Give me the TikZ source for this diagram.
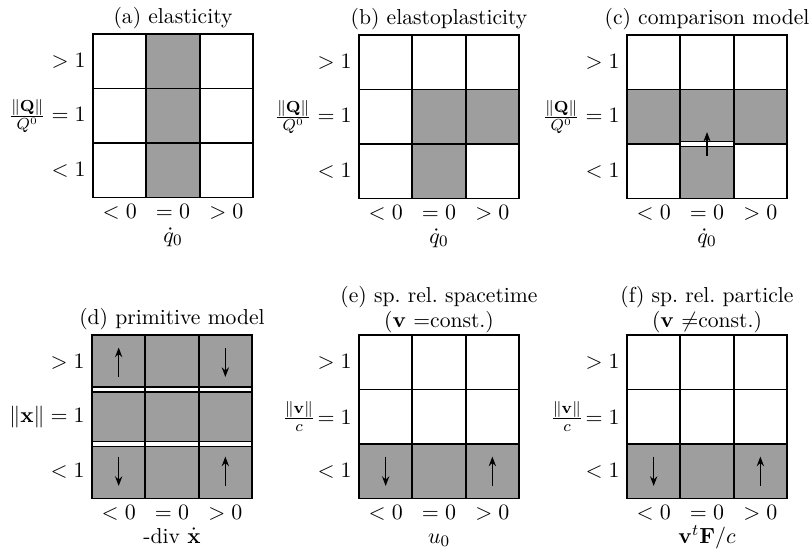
\documentclass[tikz,border=0pt]{standalone}
\usetikzlibrary{arrows.meta}
\tikzset{
  shaded/.style={fill=black!38},
  gridline/.style={line width=0.9pt, line cap=rect},
  flow/.style={line width=0.75pt, -{Stealth[length=4.8pt,width=3.6pt]}},
  tag/.style={font=\fontsize{10.8}{13}\selectfont, inner sep=0pt},
}
% row, column and axis labels of one 3x3 panel (cell units)
\newcommand{\panellabels}[3]{%
  \node[tag, anchor=east] (#1-r0) at (-0.13,0.5) {\(>1\)};
  \node[tag, anchor=east] (#1-r1) at (-0.13,1.5) {#2};
  \node[tag, anchor=east] (#1-r2) at (-0.13,2.5) {\(<1\)};
  \node[tag, anchor=base] (#1-c0) at (0.5,3.39) {\(<0\)};
  \node[tag, anchor=base] (#1-c1) at (1.5,3.39) {\(=0\)};
  \node[tag, anchor=base] (#1-c2) at (2.5,3.39) {\(>0\)};
  \node[tag, anchor=base] (#1-ax) at (1.5,3.82) {#3};
}
\newcommand{\fullgrid}{%
  \foreach \k in {0,...,3} {
    \draw[gridline] (\k,0) -- (\k,3);
    \draw[gridline] (0,\k) -- (3,\k);
  }
}
\begin{document}
\begin{tikzpicture}[x=0.5pt, y=-0.5pt]
  \useasboundingbox (0,0) rectangle (812,552);

  % (a) elasticity
  \begin{scope}[shift={(93,34)}, x=26.67pt, y=-27.25pt]
    \fill[shaded] (1,0) rectangle (2,3);
    \fullgrid
    \node[tag, anchor=base] (a-t) at (1.5,-0.19) {(a) elasticity};
    \panellabels{a}{\(\frac{\|\mathbf{Q}\|}{Q^0}=1\)}{\(\dot{q}_0\)}
  \end{scope}

  % (b) elastoplasticity
  \begin{scope}[shift={(359,35)}, x=26.67pt, y=-27.25pt]
    \fill[shaded] (1,1) rectangle (3,2);
    \fill[shaded] (1,2) rectangle (2,3);
    \fullgrid
    \node[tag, anchor=base] (b-t) at (1.5,-0.19) {(b) elastoplasticity};
    \panellabels{b}{\(\frac{\|\mathbf{Q}\|}{Q^0}=1\)}{\(\dot{q}_0\)}
  \end{scope}

  % (c) comparison model
  \begin{scope}[shift={(627,35)}, x=26.67pt, y=-27.25pt]
    \fill[shaded] (0,1) rectangle (3,2);
    \fill[shaded] (1,2) rectangle (2,3);
    \fill[white] (1,1.954) rectangle (2,2.046);
    \foreach \k in {0,...,3} {
      \draw[gridline] (\k,0) -- (\k,3);
    }
    \foreach \k in {0,1,3} {
      \draw[gridline] (0,\k) -- (3,\k);
    }
    \draw[gridline] (0,2) -- (1,2);
    \draw[gridline] (2,2) -- (3,2);
    \draw[gridline] (1,1.954) -- (2,1.954);
    \draw[gridline] (1,2.046) -- (2,2.046);
    \draw[flow] (1.5,2.22) -- (1.5,1.78);
    \node[tag, anchor=base] (c-t) at (1.5,-0.19) {(c) comparison model};
    \panellabels{c}{\(\frac{\|\mathbf{Q}\|}{Q^0}=1\)}{\(\dot{q}_0\)}
  \end{scope}

  % (d) primitive model
  \begin{scope}[shift={(92,335)}, x=26.67pt, y=-27.25pt]
    \fill[shaded] (0,0) rectangle (3,0.954);
    \fill[shaded] (0,1.046) rectangle (3,1.954);
    \fill[shaded] (0,2.046) rectangle (3,3);
    \foreach \k in {0,...,3} {
      \draw[gridline] (\k,0) -- (\k,3);
    }
    \foreach \k in {0,0.954,1.046,1.954,2.046,3} {
      \draw[gridline] (0,\k) -- (3,\k);
    }
    \draw[flow] (0.5,0.77) -- (0.5,0.23);
    \draw[flow] (2.5,0.23) -- (2.5,0.77);
    \draw[flow] (0.5,2.23) -- (0.5,2.77);
    \draw[flow] (2.5,2.77) -- (2.5,2.23);
    \node[tag, anchor=base] (d-t) at (1.5,-0.2) {(d) primitive model};
    \panellabels{d}{\(\|\mathbf{x}\|=1\)}{-div \(\dot{\mathbf{x}}\)}
  \end{scope}

  % (e) sp. rel. spacetime
  \begin{scope}[shift={(359,335)}, x=26.67pt, y=-27.25pt]
    \fill[shaded] (0,2) rectangle (3,3);
    \fullgrid
    \draw[flow] (0.5,2.23) -- (0.5,2.77);
    \draw[flow] (2.5,2.77) -- (2.5,2.23);
    \node[tag, anchor=base] (e-t1) at (1.5,-0.6) {(e) sp.\ rel.\ spacetime};
    \node[tag, anchor=base] (e-t2) at (1.5,-0.146) {(\(\mathbf{v}\) =const.)};
    \panellabels{e}{\(\frac{\|\mathbf{v}\|}{c}\!=1\)}{\(u_0\)}
  \end{scope}

  % (f) sp. rel. particle
  \begin{scope}[shift={(627,335)}, x=26.67pt, y=-27.25pt]
    \fill[shaded] (0,2) rectangle (3,3);
    \fullgrid
    \draw[flow] (0.5,2.23) -- (0.5,2.77);
    \draw[flow] (2.5,2.77) -- (2.5,2.23);
    \node[tag, anchor=base] (f-t1) at (1.5,-0.6) {(f) sp.\ rel.\ particle};
    \node[tag, anchor=base] (f-t2) at (1.5,-0.146) {(\(\mathbf{v}\) \(\neq\)const.)};
    \panellabels{f}{\(\frac{\|\mathbf{v}\|}{c}\!=1\)}{\(\mathbf{v}^t\mathbf{F}/c\)}
  \end{scope}
\end{tikzpicture}
\end{document}
